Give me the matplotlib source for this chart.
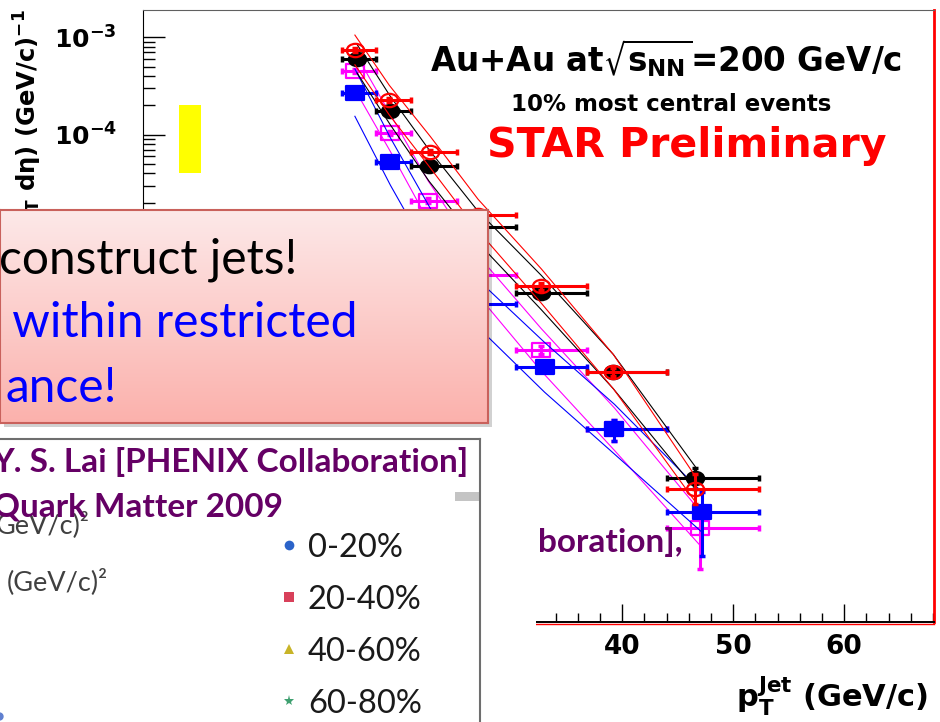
import numpy as np
import matplotlib
matplotlib.use("Agg")
import matplotlib.pyplot as plt
from matplotlib.path import Path
from matplotlib.transforms import Affine2D
from matplotlib.patches import Rectangle
from matplotlib.lines import Line2D
from matplotlib.ticker import MultipleLocator, LogLocator, NullFormatter, FuncFormatter
from matplotlib.colors import LinearSegmentedColormap

plt.rcParams['font.family'] = ['DejaVu Sans']
plt.rcParams['font.weight'] = 'bold'
plt.rcParams['mathtext.fontset'] = 'dejavusans'

# jet pT bins (GeV/c), shared by all spectra
bin_lo = [14.7, 17.8, 21.0, 25.1, 30.4, 36.8, 44.0]
bin_hi = [17.8, 21.0, 25.1, 30.4, 36.8, 44.0, 52.3]

# red open circles
red_x = [15.9, 19.0, 22.7, 27.0, 32.7, 39.2, 46.6]
red_y = [7.4e-4, 2.26e-4, 6.6e-5, 1.5e-5, 2.8e-6, 3.7e-7, 2.3e-8]
red_dn = [0.05, 0.05, 0.05, 0.06, 0.08, 0.10, 0.30]
red_up = [0.05, 0.05, 0.05, 0.06, 0.08, 0.10, 0.42]
red_sys = [1.42, 1.42, 1.45, 1.45, 1.5, 1.5, 1.35]

# black full circles
blk_x = [16.1, 19.1, 22.6, 27.0, 32.7, 39.2, 46.6]
blk_y = [6.0e-4, 1.76e-4, 4.8e-5, 1.13e-5, 2.4e-6, 3.7e-7, 3.0e-8]
blk_dn = [0.05, 0.05, 0.05, 0.06, 0.08, 0.10, 0.22]
blk_up = [0.05, 0.05, 0.05, 0.06, 0.08, 0.10, 0.27]
blk_sys = [1.4, 1.4, 1.45, 1.45, 1.5, 1.5, 1.3]

# magenta open squares
mag_x = [15.9, 19.1, 22.5, 27.0, 32.7, 39.3, 47.0]
mag_y = [4.5e-4, 1.04e-4, 2.1e-5, 3.6e-6, 6.2e-7, 9.5e-8, 9.2e-9]
mag_dn = [0.05, 0.05, 0.06, 0.07, 0.10, 0.25, 0.62]
mag_up = [0.05, 0.05, 0.06, 0.07, 0.10, 0.24, 0.57]
mag_sys = [1.55, 1.55, 1.6, 1.6, 1.65, 1.65, 1.5]

# blue full squares
blu_x = [15.9, 19.1, 22.7, 27.0, 33.0, 39.3, 47.2]
blu_y = [2.7e-4, 5.3e-5, 1.0e-5, 1.85e-6, 4.1e-7, 9.5e-8, 1.33e-8]
blu_dn = [0.05, 0.05, 0.06, 0.07, 0.10, 0.25, 0.64]
blu_up = [0.05, 0.05, 0.06, 0.07, 0.10, 0.24, 0.64]
blu_sys = [1.75, 1.75, 1.75, 1.75, 1.8, 1.8, 1.6]

# normalisation uncertainty box
norm_x = [0.0, 2.0]
norm_y = [4.0e-5, 2.0e-4]

legend_labels = ['0-20%', '20-40%', '40-60%', '60-80%']
legend_colors = ['#2b63c9', '#d8405a', '#c8b428', '#3fa070']
legend_markers = ['o', 's', '^', '*']

W, H = 940, 722
fig = plt.figure(figsize=(W / 100, H / 100), dpi=100)
# pixel coordinates measured from the top-left corner
pix = Affine2D().scale(1.0 / W, -1.0 / H).translate(0, 1) + fig.transFigure


def box(x0, y0, x1, y1):
    return [x0 / W, 1 - y1 / H, (x1 - x0) / W, (y1 - y0) / H]


ellipse = Path.unit_circle().transformed(Affine2D().scale(1.3, 1.0))
wide_sq = Path.unit_rectangle().transformed(Affine2D().translate(-0.5, -0.5).scale(1.3, 1.0))

ax = fig.add_axes(box(143, 10, 934, 622))


def draw_series(x, y, dn, up, band, color, marker, filled, z):
    x = np.asarray(x)
    y = np.asarray(y)
    f = np.asarray(band)
    xerr = [x - np.asarray(bin_lo), np.asarray(bin_hi) - x]
    yerr = [y * np.asarray(dn), y * np.asarray(up)]
    ax.plot(x, y * f, color=color, lw=0.8, zorder=z)
    ax.plot(x, y / f, color=color, lw=0.8, zorder=z)
    ax.errorbar(x, y, xerr=xerr, yerr=yerr, fmt='none', ecolor=color,
                elinewidth=2.2, capsize=2.5, capthick=2.5, zorder=z + 0.1)
    ax.plot(x, y, ls='none', marker=marker, ms=12.5, mec=color,
            mfc=color if filled else 'none', mew=1.6, zorder=z + 0.2)


ax.add_patch(Rectangle((norm_x[0], norm_y[0]), norm_x[1] - norm_x[0],
                       norm_y[1] - norm_y[0], color='#ffff00', lw=0, zorder=1))
draw_series(mag_x, mag_y, mag_dn, mag_up, mag_sys, '#ff00ff', wide_sq, False, 2)
draw_series(blu_x, blu_y, blu_dn, blu_up, blu_sys, '#0000ff', wide_sq, True, 3)
draw_series(blk_x, blk_y, blk_dn, blk_up, blk_sys, '#000000', ellipse, True, 4)
draw_series(red_x, red_y, red_dn, red_up, red_sys, '#ff0000', ellipse, False, 5)

ax.set_xlim(-3.2, 68.1)
ax.set_yscale('log')
ax.set_ylim(1e-9, 1.9e-3)
ax.xaxis.set_major_locator(MultipleLocator(10))
ax.xaxis.set_minor_locator(MultipleLocator(2))
ax.xaxis.set_major_formatter(FuncFormatter(lambda v, p: '%d' % v))
ax.yaxis.set_major_locator(LogLocator(base=10, numticks=20))
ax.yaxis.set_minor_locator(LogLocator(base=10, subs=np.arange(2, 10), numticks=20))
ax.yaxis.set_minor_formatter(NullFormatter())
ax.yaxis.set_major_formatter(FuncFormatter(lambda v, p: r'$\mathbf{10^{%d}}$' % round(np.log10(v))))
ax.tick_params(axis='x', which='major', direction='in', length=13, width=1, pad=9, labelsize=19)
ax.tick_params(axis='x', which='minor', direction='in', length=6.5, width=1)
ax.tick_params(axis='y', which='major', direction='in', length=16, width=1, pad=19, labelsize=18)
ax.tick_params(axis='y', which='minor', direction='in', length=8.5, width=1)
ax.spines['top'].set_color('#606060')
ax.spines['right'].set_color('#ff0000')
ax.spines['right'].set_linewidth(2)
ax.spines['bottom'].set_linewidth(1.4)
fig.add_artist(Line2D([536, 934], [624, 624], transform=pix, color='#ff0000', lw=1, zorder=0.5))

fig.text(28, 9, r'$\mathbf{1/N_{evt}\ d^{2}N/(dp_{T}\ d\eta)\ (GeV/c)^{-1}}$',
         transform=pix, rotation=90, ha='center', va='top', fontsize=17.5, zorder=1)
fig.text(928, 708, r'$\mathbf{p_{T}^{Jet}}$ (GeV/c)', transform=pix,
         ha='right', va='baseline', fontsize=22)
fig.text(666, 72, r'Au+Au at$\sqrt{\mathbf{s}_{\mathbf{NN}}}$=200 GeV/c', transform=pix,
         ha='center', va='baseline', fontsize=23.5)
fig.text(671, 111, '10% most central events', transform=pix,
         ha='center', va='baseline', fontsize=16.5)
fig.text(687, 157, 'STAR Preliminary', transform=pix, color='#ff0000',
         ha='center', va='baseline', fontsize=29.5)

lato = ['Lato', 'DejaVu Sans']
purple = '#650065'
fig.text(683, 552, 'boration],', transform=pix, family=lato, color=purple,
         ha='right', va='baseline', fontsize=24, weight='bold', zorder=3)
fig.add_artist(Rectangle((481, 560), 55, 170, transform=pix, color='white', lw=0, zorder=2))

# callout box
fig.add_artist(Rectangle((0, 423), 492, 16, transform=pix, color='white', lw=0, zorder=4.5))
fig.add_artist(Rectangle((4, 215), 488, 212, transform=pix, color='#000000', alpha=0.18,
                         lw=0, zorder=4.6))
cb = fig.add_axes(box(0, 210, 488, 423), zorder=5)
pink = LinearSegmentedColormap.from_list('pink', ['#fde9e9', '#fbb1ac'])
cb.imshow(np.linspace(0, 1, 256)[:, None], cmap=pink, aspect='auto', extent=[0, 1, 0, 1])
cb.set_xticks([])
cb.set_yticks([])
for s in cb.spines.values():
    s.set_color('#c9615c')
    s.set_linewidth(1.5)
fig.text(297, 273, 'construct jets!', transform=pix, family=lato, weight='normal',
         color='black', ha='right', va='baseline', fontsize=34.5, zorder=6)
fig.text(357, 337, ' within restricted', transform=pix, family=lato, weight='normal',
         color='#0000ff', ha='right', va='baseline', fontsize=34.5, zorder=6)
fig.text(117, 402, 'ance!', transform=pix, family=lato, weight='normal',
         color='#0000ff', ha='right', va='baseline', fontsize=34.5, zorder=6)

# PHENIX panel
ph = fig.add_axes(box(-5, 439, 480, 730), zorder=7)
ph.set_xlim(-5, 480)
ph.set_ylim(730, 439)
ph.set_xticks([])
ph.set_yticks([])
for s in ph.spines.values():
    s.set_color('#6e6e6e')
    s.set_linewidth(1.5)
ph.add_patch(Rectangle((455, 492), 25, 9, color='#c4c4c4', lw=0))
ph.plot([-1], [716], 'o', ms=5, color='#6080d0', clip_on=False)
ph.text(90, 533, 'GeV/c)²', family=lato, weight='normal', color='#404040',
        ha='right', va='baseline', fontsize=19.5)
ph.text(7, 590, '(GeV/c)²', family=lato, weight='normal', color='#404040',
        ha='left', va='baseline', fontsize=19.5)
ph.text(468, 472, 'Y. S. Lai [PHENIX Collaboration]', family=lato, weight='bold',
        color=purple, ha='right', va='baseline', fontsize=24)
ph.text(283, 517, 'Quark Matter 2009', family=lato, weight='bold',
        color=purple, ha='right', va='baseline', fontsize=24)
for i, (lab, c, m) in enumerate(zip(legend_labels, legend_colors, legend_markers)):
    yy = 545 + 52 * i
    ph.plot([289], [yy], ls='none', marker=m, ms=7 if m != '*' else 8, color=c, mew=0)
    ph.text(308, yy + 12, lab, family=lato, weight='normal', color='#1a1a1a',
            ha='left', va='baseline', fontsize=23.5)

fig.savefig('out.png', dpi=100)
